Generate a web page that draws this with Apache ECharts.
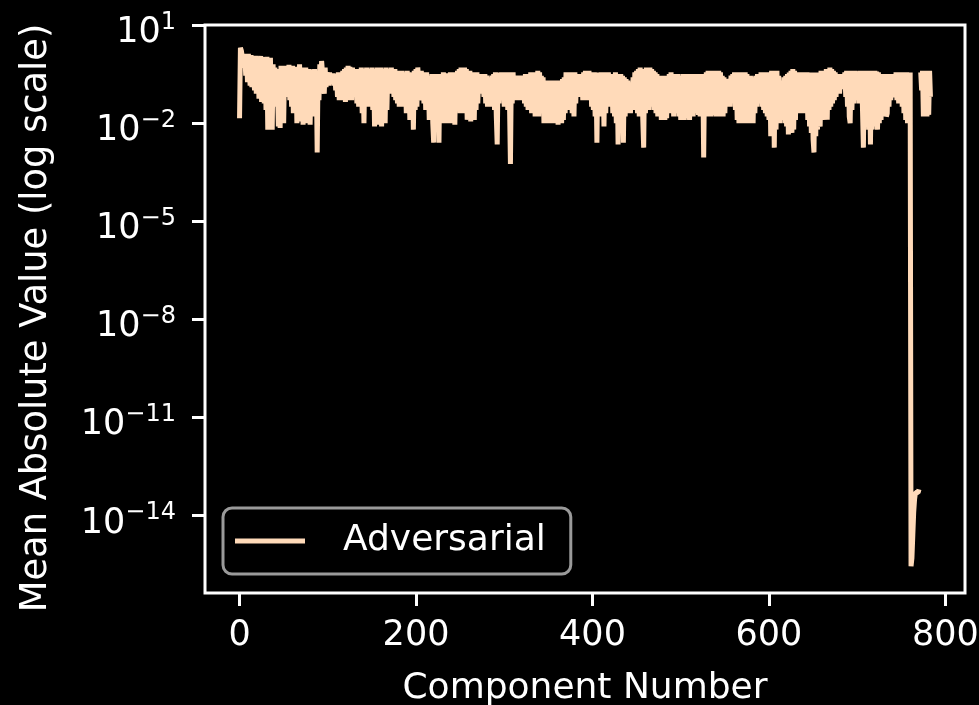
<!DOCTYPE html>
<html>
<head>
<meta charset="utf-8">
<script src="https://cdn.jsdelivr.net/npm/echarts@6/dist/echarts.min.js"></script>
<style>
html, body { margin: 0; padding: 0; background: #000; }
#chart { width: 979px; height: 705px; }
</style>
</head>
<body>
<div id="chart"></div>
<script>
// mean absolute value per component as log10 exponents
var logPart0 = [
  -1.85, 0.30, 0.22, 0.18, 0.20, -0.30, 0.12, -0.55, 0.10, -0.75,
  0.12, -0.40, -0.85, 0.08, -0.90, 0.05, -0.60, -1.00, 0.06, -1.10,
  -0.20, 0.04, -1.25, -0.30, 0.05, -1.35, -0.50, 0.02, -1.40, -0.10,
  -1.60, 0.03, -2.20, -0.40, -2.10, 0.00, -1.90, -2.20, -0.20, -1.50,
  -0.30, -1.00, -0.45, -0.90, -2.10, -0.35, -2.15, -0.25, -1.60, -0.30,
  -2.00, -0.25, -1.20, -0.35, -0.90, -1.00, -0.22, -1.30, -0.30, -1.50,
  -0.25, -1.70, -0.40, -1.20, -0.28, -2.00, -0.35, -1.80, -0.20, -0.15,
  -1.95, -0.50, -2.05, -0.30, -1.50, -0.30, -2.00, -0.40, -1.60, -0.35,
  -2.05, -0.40, -1.40, -0.38, -1.80, -0.35, -1.20, -0.50, -2.90, -0.40,
  -1.30, -0.20, -1.00, -0.10, -0.05, -0.80, -1.10, -0.30, -0.90, -0.45
];
var logPart1 = [
  -0.50, -0.85, -0.45, -0.70, -0.50, -0.80, -0.48, -0.85, -0.55, -1.00,
  -0.50, -1.20, -0.45, -1.30, -0.60, -0.50, -1.30, -0.40, -1.20, -0.35,
  -1.35, -0.30, -1.00, -0.25, -1.30, -0.28, -0.80, -1.30, -0.30, -1.20,
  -0.40, -0.90, -0.35, -1.40, -0.45, -1.50, -0.35, -1.30, -0.30, -1.70,
  -0.40, -2.00, -0.35, -1.50, -0.30, -1.20, -0.40, -1.50, -0.35, -1.40,
  -0.30, -1.60, -0.40, -2.10, -0.35, -1.80, -0.30, -2.05, -0.40, -1.50,
  -0.30, -2.10, -0.45, -1.70, -0.35, -2.00, -0.30, -1.60, -0.40, -1.00,
  -0.35, -1.10, -0.30, -0.90, -0.40, -1.20, -0.35, -1.30, -0.45, -1.40,
  -0.40, -1.50, -0.45, -1.30, -0.40, -1.50, -0.50, -1.40, -0.45, -1.70,
  -0.40, -1.60, -0.45, -1.90, -0.50, -1.80, -0.45, -2.20, -0.40, -1.60
];
var logPart2 = [
  -0.35, -1.50, -0.30, -0.27, -1.20, -1.30, -0.40, -1.10, -0.45, -1.40,
  -0.50, -1.60, -0.45, -1.50, -0.55, -1.90, -0.55, -1.70, -0.50, -2.00,
  -2.60, -0.55, -1.80, -0.50, -2.10, -0.55, -2.60, -0.50, -2.00, -0.50,
  -1.80, -0.45, -2.00, -0.50, -1.60, -0.48, -2.00, -0.50, -1.90, -0.45,
  -2.00, -0.50, -1.70, -0.45, -2.05, -0.50, -1.60, -0.40, -1.50, -0.35,
  -1.70, -0.30, -1.60, -0.35, -1.70, -0.30, -1.50, -0.35, -1.90, -0.45,
  -1.80, -0.40, -1.95, -0.50, -1.70, -0.45, -1.90, -0.50, -1.60, -0.45,
  -1.40, -0.50, -1.00, -0.85, -0.50, -1.10, -0.55, -1.20, -0.50, -1.40,
  -0.55, -1.50, -0.60, -1.40, -0.65, -1.50, -0.55, -1.30, -0.50, -1.60,
  -0.45, -1.80, -2.65, -0.45, -1.40, -0.50, -1.20, -0.45, -1.30, -0.50
];
var logPart3 = [
  -1.50, -0.45, -1.40, -0.50, -1.60, -0.45, -1.50, -3.25, -0.50, -1.40,
  -0.45, -1.30, -0.55, -1.20, -0.55, -1.30, -0.60, -1.25, -0.55, -1.30,
  -0.55, -1.20, -0.60, -1.40, -0.50, -1.50, -0.55, -1.60, -0.50, -1.40,
  -0.45, -1.70, -0.50, -1.60, -0.45, -1.80, -0.45, -1.70, -0.40, -1.80,
  -0.45, -1.60, -0.55, -1.70, -0.60, -2.00, -0.70, -1.80, -0.75, -2.00,
  -0.70, -1.90, -0.75, -2.00, -0.70, -1.80, -0.75, -2.00, -0.70, -1.90,
  -0.75, -2.05, -0.70, -1.80, -0.75, -2.00, -0.65, -1.90, -0.60, -1.70,
  -0.45, -1.50, -0.45, -1.60, -0.50, -1.50, -0.45, -1.70, -0.50, -1.80,
  -0.45, -1.40, -0.50, -1.10, -0.50, -1.20, -0.55, -1.10, -0.50, -1.30,
  -0.45, -1.20, -0.40, -1.30, -0.45, -1.25, -0.40, -1.30, -0.45, -1.50
];
var logPart4 = [
  -0.50, -1.60, -0.45, -1.80, -0.50, -2.60, -0.45, -1.70, -0.50, -1.60,
  -0.45, -1.80, -0.50, -2.10, -0.45, -1.70, -0.50, -1.50, -0.45, -1.40,
  -0.50, -1.50, -0.55, -1.70, -0.50, -1.80, -0.45, -2.00, -0.50, -2.65,
  -0.55, -1.90, -0.50, -2.00, -0.55, -2.60, -0.60, -1.80, -0.65, -1.70,
  -0.70, -1.60, -0.75, -1.70, -0.80, -1.60, -0.60, -1.50, -0.45, -1.60,
  -0.40, -1.70, -0.35, -1.80, -0.30, -1.60, -0.35, -1.90, -2.75, -0.35,
  -1.70, -0.30, -1.50, -0.35, -1.60, -0.30, -1.40, -0.35, -1.50, -0.40,
  -1.60, -0.45, -1.70, -0.50, -1.80, -0.55, -1.70, -0.60, -1.90, -0.55,
  -1.80, -0.60, -1.90, -0.55, -1.85, -0.60, -1.70, -0.50, -1.60, -0.45,
  -1.70, -0.50, -1.80, -0.50, -1.60, -0.55, -1.70, -0.50, -1.80, -0.55
];
var logPart5 = [
  -1.90, -0.55, -1.80, -0.50, -1.90, -0.55, -1.70, -0.50, -1.85, -0.55,
  -1.90, -0.50, -1.70, -0.50, -1.80, -0.55, -1.70, -0.50, -1.60, -0.55,
  -1.75, -0.50, -1.80, -0.55, -1.60, -0.50, -3.05, -0.50, -1.70, -0.45,
  -1.80, -0.40, -1.70, -0.45, -1.80, -0.40, -1.75, -0.45, -1.60, -0.40,
  -1.80, -0.45, -1.70, -0.40, -1.80, -0.45, -1.70, -0.55, -1.80, -0.60,
  -1.70, -0.65, -1.50, -0.75, -1.40, -0.65, -1.50, -0.55, -1.30, -0.50,
  -1.30, -0.45, -1.60, -0.50, -1.90, -0.45, -2.00, -0.50, -1.80, -0.45,
  -2.00, -0.50, -1.90, -0.45, -2.00, -0.50, -1.80, -0.55, -2.00, -0.55,
  -1.90, -0.60, -2.00, -0.60, -1.70, -0.55, -1.50, -0.50, -1.40, -0.50,
  -1.30, -0.45, -1.50, -0.45, -1.60, -0.45, -1.70, -0.50, -1.80, -0.45
];
var logPart6 = [
  -1.90, -0.45, -2.40, -0.40, -2.00, -0.45, -2.75, -0.40, -2.20, -0.40,
  -1.90, -0.55, -2.00, -0.75, -1.80, -0.70, -1.90, -0.60, -2.00, -0.55,
  -2.10, -0.50, -2.35, -0.45, -2.10, -0.40, -2.30, -0.35, -2.20, -0.40,
  -1.90, -0.45, -1.70, -0.50, -1.60, -0.45, -1.70, -0.50, -1.60, -0.45,
  -1.70, -0.50, -1.65, -0.45, -1.90, -0.50, -2.10, -0.45, -2.30, -0.50,
  -2.50, -2.90, -0.45, -2.40, -0.50, -2.20, -0.45, -2.00, -2.10, -0.40,
  -1.90, -0.45, -1.80, -0.40, -1.90, -0.35, -1.90, -0.35, -1.60, -0.30,
  -1.50, -0.35, -1.40, -0.40, -1.30, -0.45, -1.20, -0.50, -1.00, -0.50,
  -1.10, -0.55, -0.90, -0.50, -0.95, -0.85, -0.45, -1.20, -0.40, -1.50,
  -0.40, -1.80, -2.00, -0.40, -1.60, -0.40, -1.40, -0.40, -1.30, -0.42
];
// last components: drop to numerical zero, one missing value, then a short tail
var logPart7 = [
  -1.30, -0.42, -1.40, -0.40, -1.30, -0.42, -1.60, -2.75, -0.40, -1.80,
  -0.42, -2.00, -0.40, -2.20, -0.42, -2.65, -0.40, -2.20, -0.42, -2.00,
  -0.40, -2.10, -0.42, -2.20, -0.45, -2.00, -0.50, -1.90, -0.50, -1.80,
  -0.55, -1.70, -0.50, -1.80, -1.70, -0.55, -1.50, -0.50, -1.30, -0.50,
  -1.20, -1.10, -0.50, -1.20, -0.45, -1.30, -0.50, -1.40, -0.45, -1.30,
  -0.50, -1.50, -0.45, -1.70, -0.50, -1.90, -0.45, -2.00, -0.50, -1.90,
  -0.45, -15.55, -15.30, -14.60, -13.90, -13.50, -13.30, -13.35, -13.25, -13.30,
  -13.20, null, -0.45, -1.00, -0.40, -1.80, -0.45, -1.70, -0.40, -1.80,
  -0.45, -1.75, -0.40, -1.20
];

var xTicks = [0, 200, 400, 600, 800];
var yTicks = [1, -2, -5, -8, -11, -14];

var FONT = 'DejaVu Sans';
var LINE_COLOR = '#ffdab9';

var logValues = [].concat(logPart0, logPart1, logPart2, logPart3,
	logPart4, logPart5, logPart6, logPart7);
var seriesData = logValues.map(function (v, i) {
	return [i, v === null ? '-' : v];
});

function powerLabel(v) {
	var e = Math.round(v);
	var txt = e < 0 ? '\u2212' + (-e) : String(e);
	return '{b|10}{s|' + txt + '}';
}

var chart = echarts.init(document.getElementById('chart'));
var option = {
	backgroundColor: '#000',
	animation: false,
	textStyle: { fontFamily: FONT },
	grid: {
		left: 205,
		right: 14,
		top: 25,
		bottom: 112,
		outerBoundsMode: 'none',
		containLabel: false,
		show: true,
		borderColor: '#ffffff',
		borderWidth: 3,
		backgroundColor: '#000'
	},
	legend: {
		left: 223,
		top: 508,
		icon: 'rect',
		itemWidth: 70,
		itemHeight: 5,
		padding: [15, 25, 15, 12],
		borderColor: '#9a9a9a',
		borderWidth: 3,
		borderRadius: 9,
		backgroundColor: '#000',
		textStyle: {
			color: '#ffffff',
			fontSize: 36,
			fontFamily: FONT,
			padding: [0, 0, 0, 33]
		},
		data: ['Adversarial']
	},
	xAxis: {
		type: 'value',
		min: -39.15,
		max: 822.15,
		name: 'Component Number',
		nameLocation: 'middle',
		nameGap: 78,
		nameTextStyle: { color: '#ffffff', fontSize: 36, fontFamily: FONT },
		axisLine: { show: false, onZero: false },
		splitLine: { show: false },
		axisTick: {
			show: true,
			length: 13,
			lineStyle: { color: '#ffffff', width: 3 },
			customValues: xTicks
		},
		axisLabel: {
			color: '#ffffff',
			fontSize: 35,
			fontFamily: FONT,
			margin: 25,
			customValues: xTicks
		}
	},
	yAxis: {
		type: 'value',
		min: -16.37,
		max: 1,
		name: 'Mean Absolute Value (log scale)',
		nameLocation: 'middle',
		nameGap: 150,
		nameTextStyle: {
			color: '#ffffff',
			fontSize: 36.8,
			fontFamily: FONT,
			padding: [0, 18, 0, 0]
		},
		axisLine: { show: false, onZero: false },
		splitLine: { show: false },
		axisTick: {
			show: true,
			length: 13,
			lineStyle: { color: '#ffffff', width: 3 },
			customValues: yTicks
		},
		axisLabel: {
			color: '#ffffff',
			margin: 29,
			padding: [11, 0, 0, 0],
			customValues: yTicks,
			formatter: powerLabel,
			rich: {
				b: { fontSize: 35, color: '#ffffff', fontFamily: FONT, padding: [5, 0, 0, 0] },
				s: { fontSize: 24, color: '#ffffff', fontFamily: FONT, verticalAlign: 'top' }
			}
		}
	},
	series: [{
		name: 'Adversarial',
		type: 'line',
		data: seriesData,
		showSymbol: false,
		connectNulls: false,
		lineStyle: { color: LINE_COLOR, width: 5 },
		itemStyle: { color: LINE_COLOR }
	}]
};
chart.setOption(option);
</script>
</body>
</html>
